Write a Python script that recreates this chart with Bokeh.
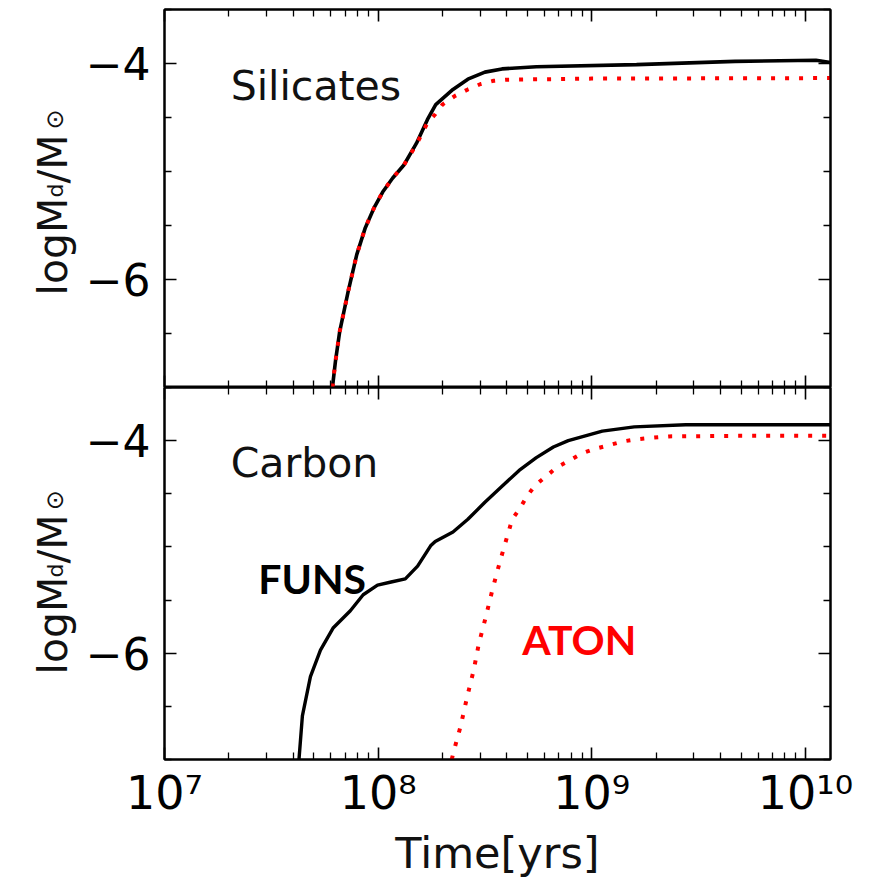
import math
from bokeh.plotting import figure
from bokeh.layouts import column, row
from bokeh.models import Range1d, FixedTicker, LinearAxis, LogAxis, Label
from bokeh.embed import file_html
from bokeh.resources import INLINE

# ---------------- data (time in years, log10 dust mass) ----------------
sil_funs_t = [6.11e7, 6.31e7, 6.61e7, 7.24e7, 7.94e7, 8.71e7, 9.55e7, 1.05e8, 1.17e8,
              1.32e8, 1.51e8, 1.70e8, 1.86e8, 2.24e8, 2.63e8, 3.16e8, 3.80e8, 5.50e8,
              1.62e9, 4.68e9, 1.12e10, 1.31e10]
sil_funs_m = [-7.0, -6.76, -6.48, -6.11, -5.77, -5.52, -5.34, -5.19, -5.06,
              -4.94, -4.74, -4.52, -4.38, -4.24, -4.145, -4.08, -4.05, -4.03,
              -4.01, -3.98, -3.97, -3.99]

sil_aton_t = [6.11e7, 6.31e7, 6.61e7, 7.24e7, 7.94e7, 8.71e7, 9.55e7, 1.05e8, 1.17e8,
              1.32e8, 1.51e8, 1.70e8, 1.85e8, 2.00e8, 2.29e8, 2.63e8, 3.02e8, 3.47e8,
              3.98e8, 1.00e9, 1.31e10]
sil_aton_m = [-7.0, -6.76, -6.48, -6.11, -5.77, -5.52, -5.34, -5.19, -5.06,
              -4.94, -4.75, -4.55, -4.47, -4.38, -4.30, -4.24, -4.19, -4.16,
              -4.15, -4.14, -4.135]

car_funs_t = [4.26e7, 4.42e7, 4.82e7, 5.37e7, 6.17e7, 7.41e7, 8.51e7, 9.93e7, 1.15e8,
              1.34e8, 1.53e8, 1.76e8, 1.85e8, 2.24e8, 2.63e8, 3.16e8, 3.80e8, 4.57e8,
              5.50e8, 6.61e8, 7.76e8, 1.12e9, 1.58e9, 2.75e9, 1.31e10]
car_funs_m = [-7.0, -6.59, -6.22, -5.97, -5.76, -5.60, -5.45, -5.36, -5.33,
              -5.30, -5.18, -4.99, -4.95, -4.86, -4.74, -4.58, -4.43, -4.28,
              -4.16, -4.06, -4.0, -3.91, -3.87, -3.85, -3.85]

car_aton_t = [2.21e8, 2.26e8, 2.43e8, 2.61e8, 2.80e8, 2.96e8, 3.18e8, 3.41e8, 3.61e8,
              3.80e8, 4.02e8, 4.24e8, 4.63e8, 4.98e8, 5.44e8, 6.07e8, 6.87e8, 7.80e8,
              8.99e8, 1.02e9, 1.17e9, 1.38e9, 1.58e9, 1.86e9, 2.29e9, 4.68e9, 1.31e10]
car_aton_m = [-7.0, -6.92, -6.69, -6.41, -6.16, -5.91, -5.67, -5.42, -5.23,
              -5.07, -4.90, -4.74, -4.63, -4.52, -4.42, -4.34, -4.25, -4.19,
              -4.12, -4.08, -4.05, -4.01, -3.99, -3.975, -3.96, -3.955, -3.955]

panel_names = ["Silicates", "Carbon"]
model_names = ["FUNS", "ATON"]
x_title = "Time[yrs]"

x_major = [1e7, 1e8, 1e9, 1e10]
x_tick_labels = {1e7: "10\u2077", 1e8: "10\u2078", 1e9: "10\u2079", 1e10: "10\u00b9\u2070"}
y_major = [-6, -4]
y_minor = [-7, -6.5, -5.5, -5, -4.5, -3.5]
y_tick_labels = {-6: "\u22126", -4: "\u22124"}

X_START, X_END = 1e7, 1.31e10
Y_START, Y_END = -7.0, -3.5
x_minor = [k * 10.0 ** d for d in range(7, 11) for k in range(2, 10) if k * 10.0 ** d <= X_END]

# ---------------- layout geometry (pixels) ----------------
TOTAL_W = 868
GUTTER_W = 78
MAIN_W = TOTAL_W - GUTTER_W
LEFT, RIGHT = 86, 38
H1, TOP1 = 387, 9           # top panel: frame 9..387
H2, BOT2 = 493, 117         # bottom panel: frame 387..763, tick labels + title below


def style_axis(ax, ticker, show_labels, font_size="44px", standoff=14):
    ax.ticker = ticker
    ax.major_tick_in = 12
    ax.major_tick_out = 0
    ax.minor_tick_in = 7
    ax.minor_tick_out = 0
    ax.major_tick_line_color = "black"
    ax.major_tick_line_width = 1.6
    ax.minor_tick_line_color = "black"
    ax.minor_tick_line_width = 1.3
    ax.axis_line_color = "black"
    ax.axis_line_width = 2
    if show_labels:
        ax.major_label_text_font = "DejaVu Sans"
        ax.major_label_text_font_size = font_size
        ax.major_label_text_color = "black"
        ax.major_label_standoff = standoff
    else:
        ax.major_label_text_font_size = "1px"
        ax.major_label_text_alpha = 0
        ax.major_label_standoff = 0


def make_panel(height, b_top, b_bottom, show_x_labels):
    p = figure(width=MAIN_W, height=height, x_axis_type="log",
               x_range=Range1d(X_START, X_END), y_range=Range1d(Y_START, Y_END),
               output_backend="svg", toolbar_location=None,
               min_border_left=LEFT, min_border_right=RIGHT,
               min_border_top=b_top, min_border_bottom=b_bottom)
    p.grid.visible = False
    p.outline_line_color = "black"
    p.outline_line_width = 2
    p.background_fill_color = "white"
    p.border_fill_color = "white"

    xa = p.xaxis[0]
    style_axis(xa, FixedTicker(ticks=x_major, minor_ticks=x_minor),
               show_x_labels, font_size="46px", standoff=6)
    if show_x_labels:
        xa.major_label_overrides = x_tick_labels
        xa.axis_label = x_title
        xa.axis_label_text_font = "DejaVu Sans"
        xa.axis_label_text_font_size = "43px"
        xa.axis_label_text_font_style = "normal"
        xa.axis_label_text_color = "#111111"
        xa.axis_label_standoff = 5
    style_axis(p.yaxis[0], FixedTicker(ticks=y_major, minor_ticks=y_minor),
               True, font_size="44px", standoff=14)
    p.yaxis[0].major_label_overrides = y_tick_labels

    top_ax = LogAxis()
    style_axis(top_ax, FixedTicker(ticks=x_major, minor_ticks=x_minor), False)
    p.add_layout(top_ax, "above")
    right_ax = LinearAxis()
    style_axis(right_ax, FixedTicker(ticks=y_major, minor_ticks=y_minor), False)
    p.add_layout(right_ax, "right")
    return p


def make_gutter(height, b_top, b_bottom, page_top):
    # text-only canvas beside a panel, with the same borders as the panel;
    # its data units are page pixels (y measured downward)
    frame_top = page_top + b_top
    frame_bot = page_top + height - b_bottom
    f = figure(width=GUTTER_W, height=height, x_range=Range1d(0, GUTTER_W),
               y_range=Range1d(frame_bot, frame_top), output_backend="svg",
               toolbar_location=None, min_border_left=0, min_border_right=0,
               min_border_top=b_top, min_border_bottom=b_bottom,
               x_axis_location=None, y_axis_location=None)
    f.grid.visible = False
    f.outline_line_color = None
    f.background_fill_color = "white"
    f.border_fill_color = "white"
    return f


p1 = make_panel(H1, TOP1, 0, False)
p2 = make_panel(H2, 0, BOT2, True)

# curves
p1.line(sil_funs_t, sil_funs_m, line_color="black", line_width=3.6)
p1.line(sil_aton_t, sil_aton_m, line_color="#ff0000", line_width=4,
        line_dash="4 10", line_cap="butt")
p2.line(car_funs_t, car_funs_m, line_color="black", line_width=3.4)
p2.line(car_aton_t, car_aton_m, line_color="#ff0000", line_width=4,
        line_dash="4 10", line_cap="butt")

# panel titles
for p, name in zip([p1, p2], panel_names):
    p.add_layout(Label(x=2.04e7, y=-4.21, text=name, text_font="DejaVu Sans",
                       text_font_size="41px", text_color="#111111",
                       text_align="left", text_baseline="alphabetic"))

# model labels
p2.add_layout(Label(x=2.75e7, y=-5.30, text=model_names[0], text_font="Lato",
                    text_font_style="bold", text_font_size="41px", text_color="black",
                    text_align="left", text_baseline="alphabetic"))
p2.add_layout(Label(x=4.73e8, y=-5.87, text=model_names[1], text_font="Lato",
                    text_font_style="bold", text_font_size="41px", text_color="#ff0000",
                    text_align="left", text_baseline="alphabetic"))

# y axis titles (logM_d/M_sun) in left gutters
g1 = make_gutter(H1, TOP1, 0, 0)
g2 = make_gutter(H2, 0, BOT2, H1)
pieces = [("logM", 0.0, "41px", 52), ("d", 98.0, "22px", 55),
          ("/M", 112.0, "41px", 52), ("\u2299", 166.0, "24px", 54)]
for g, start in [(g1, 295.0), (g2, 677.0)]:
    for txt, off, fs, bx in pieces:
        g.add_layout(Label(x=bx, y=start - off, angle=math.pi / 2, text=txt,
                           text_font="DejaVu Sans", text_font_size=fs,
                           text_color="#111111", text_align="left",
                           text_baseline="alphabetic"))

layout = column(row(g1, p1), row(g2, p2))
open("out.html", "w").write(file_html(layout, INLINE))
